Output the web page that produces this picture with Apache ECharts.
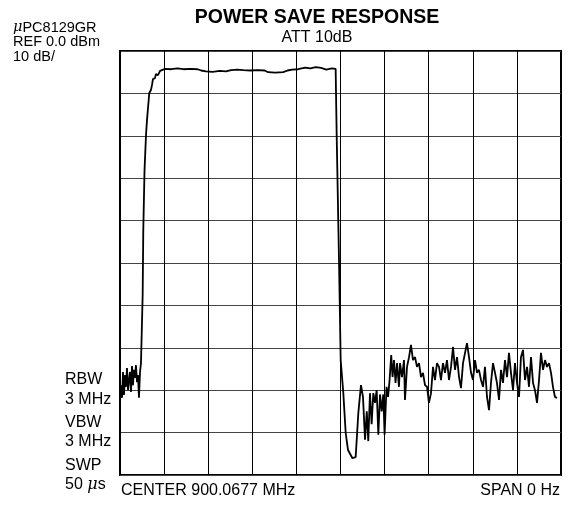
<!DOCTYPE html>
<html>
<head>
<meta charset="utf-8">
<script src="https://cdn.jsdelivr.net/npm/echarts@6/dist/echarts.min.js"></script>
<style>
html, body { margin: 0; padding: 0; background: #fff; }
#chart { width: 569px; height: 506px; }
</style>
</head>
<body>
<div id="chart"></div>
<script>
// 时间轴 (us)，span 0 Hz，扫描 50 us
var timeUs = [
	0.11, 0.23, 0.34, 0.45, 0.57, 0.68, 0.79, 0.91, 1.02, 1.13, 1.25, 1.36, 1.47, 1.59, 1.70, 1.81, 1.93, 2.04, 2.15, 2.27, 2.38,
	2.53, 2.57, 2.64, 2.78, 2.95, 3.06, 3.32, 3.51, 3.63, 3.74, 3.97, 4.08, 4.31, 4.54, 4.76,
	5.10, 5.8, 6.5, 7.2, 8.0, 8.8, 9.2, 9.75, 10.5, 11.3, 12.0, 12.6, 13.3, 14.0, 14.8, 15.6, 16.4, 16.8, 17.6, 18.5, 19.0, 19.5,
	20.2, 21.0, 21.6, 22.2, 22.8, 23.4, 24.0, 24.45,
	24.57, 24.83, 25.02, 25.32, 25.59, 25.85, 26.34, 26.72, 27.02, 27.32, 27.55, 27.78, 27.98, 28.15, 28.34, 28.53, 28.72, 28.91,
	29.10, 29.29, 29.48, 29.67, 29.85, 30.00, 30.22, 30.39, 30.55, 30.75, 30.90,
	31.07, 31.24, 31.41, 31.63, 31.75, 31.97, 32.20, 32.31, 32.54, 32.77, 32.99, 33.22, 33.45, 33.67, 33.90, 34.13, 34.35, 34.58,
	34.81, 35.03, 35.26, 35.49, 35.71, 35.94, 36.17, 36.39, 36.62, 36.85, 37.07, 37.30, 37.53, 37.76, 37.98, 38.21, 38.44, 38.66,
	38.89, 39.12, 39.34, 39.57, 39.80, 40.02, 40.25, 40.48, 40.70, 40.93, 41.16, 41.38, 41.61, 41.84, 42.06, 42.29, 42.52, 42.74,
	42.97, 43.20, 43.42, 43.65, 43.88, 44.10, 44.33, 44.56, 44.78, 45.01, 45.24, 45.46, 45.69, 45.92, 46.15, 46.37, 46.60, 46.83,
	47.05, 47.28, 47.51, 47.73, 47.96, 48.19, 48.41, 48.64, 48.87, 49.09, 49.32, 49.55
];
// 电平 (dBm)
var levelDbm = [
	-78.8, -81.8, -75.7, -81.1, -76.4, -79.2, -74.8, -80.0, -77.6, -75.7, -80.4, -74.3, -78.8, -75.2, -77.1, -74.1, -78.1, -76.4, -81.8, -75.7, -73.6,
	-73.6, -57.5, -42.2, -28.1, -19.8, -16.3, -9.9, -9.2, -8.0, -6.6, -6.4, -5.4, -5.7, -4.7, -4.5,
	-4.2, -4.3, -4.1, -4.3, -4.2, -4.3, -4.6, -4.8, -4.9, -4.7, -4.8, -4.5, -4.4, -4.5, -4.6, -4.5, -4.6, -5.0, -5.1, -5.0, -4.6, -4.4,
	-4.3, -3.9, -4.1, -3.8, -4.0, -4.4, -4.1, -4.2,
	-20.3, -49.3, -72.9, -80.7, -90.1, -94.1, -96.0, -95.8, -85.4, -78.8, -81.6, -91.7, -85.0, -92.0, -80.7, -88.0, -80.7, -83.0,
	-80.0, -90.5, -81.0, -85.0, -81.0, -90.5, -79.2, -81.6, -78.0, -71.7, -76.9,
	-72.9, -78.3, -73.6, -79.2, -73.6, -76.9, -72.9, -82.3, -74.5, -72.2, -69.3, -72.9, -72.2, -74.5, -73.6, -76.9, -75.9, -78.8,
	-79.2, -83.0, -80.7, -74.5, -77.6, -73.6, -74.5, -77.6, -73.6, -75.9, -72.9, -77.6, -74.5, -69.8, -75.2, -72.2, -76.9, -79.5,
	-73.6, -71.2, -68.9, -72.2, -75.9, -77.6, -72.9, -75.9, -75.2, -77.6, -79.2, -74.5, -81.6, -84.7, -78.3, -73.6, -75.9, -78.3,
	-82.3, -75.2, -78.3, -72.9, -76.9, -71.2, -75.9, -80.0, -73.6, -78.3, -81.6, -72.2, -70.5, -77.6, -74.5, -79.2, -72.2, -78.3,
	-80.0, -83.0, -77.6, -71.2, -75.2, -72.9, -74.5, -73.6, -75.9, -79.2, -81.6, -81.8
];

var leftLabels = ['{mu|\u03bc}PC8129GR', 'REF 0.0 dBm', '10 dB/'];
var bottomLabels = ['RBW', '3 MHz', 'VBW', '3 MHz', 'SWP', '50 {mu|\u03bc}s'];

var traceData = timeUs.map(function(t, i) {
	return [t, levelDbm[i]];
});

var fontName = 'Liberation Sans, Arial, sans-serif';

function muRich(size) {
	return { mu: { fontStyle: 'italic', fontSize: size, fontFamily: 'DejaVu Serif, serif', fill: '#000' } };
}

var graphics = [];
var leftY = [29, 43, 58];
leftLabels.forEach(function(s, i) {
	graphics.push({
		type: 'text', left: 13, top: leftY[i] - 9,
		style: { text: s, font: '14.5px ' + fontName, fill: '#000', rich: muRich(14.5) }
	});
});
var bottomY = [381, 401, 424, 443, 467, 486];
bottomLabels.forEach(function(s, i) {
	graphics.push({
		type: 'text', left: 65, top: bottomY[i] - 9,
		style: { text: s, font: '16px ' + fontName, fill: '#000', rich: muRich(16) }
	});
});
graphics.push({
	type: 'text', left: 121, top: 483,
	style: { text: 'CENTER 900.0677 MHz', font: '16px ' + fontName, fill: '#000' }
});
graphics.push({
	type: 'text', right: 9, top: 483,
	style: { text: 'SPAN 0 Hz', font: '16px ' + fontName, fill: '#000' }
});

var chart = echarts.init(document.getElementById('chart'));
var option = {
	backgroundColor: '#fff',
	animation: false,
	title: {
		text: 'POWER SAVE RESPONSE',
		subtext: 'ATT 10dB',
		left: 312,
		textAlign: 'center',
		top: 3,
		itemGap: 2,
		textStyle: { fontFamily: fontName, fontSize: 19.5, fontWeight: 'bold', color: '#000' },
		subtextStyle: { fontFamily: fontName, fontSize: 16, color: '#000' }
	},
	grid: {
		left: 120,
		top: 51,
		width: 441,
		height: 424,
		show: true,
		borderColor: '#000',
		borderWidth: 2,
		backgroundColor: 'transparent'
	},
	xAxis: {
		type: 'value',
		min: 0,
		max: 50,
		interval: 5,
		axisLine: { show: false },
		axisTick: { show: false },
		axisLabel: { show: false },
		splitLine: { show: true, lineStyle: { color: '#000', width: 1 } }
	},
	yAxis: {
		type: 'value',
		min: -100,
		max: 0,
		interval: 10,
		axisLine: { show: false },
		axisTick: { show: false },
		axisLabel: { show: false },
		splitLine: { show: true, lineStyle: { color: '#444', width: 1 } }
	},
	series: [{
		type: 'line',
		data: traceData,
		showSymbol: false,
		lineStyle: { color: '#000', width: 1.8 },
		z: 5
	}],
	graphic: graphics
};
chart.setOption(option);
</script>
</body>
</html>
